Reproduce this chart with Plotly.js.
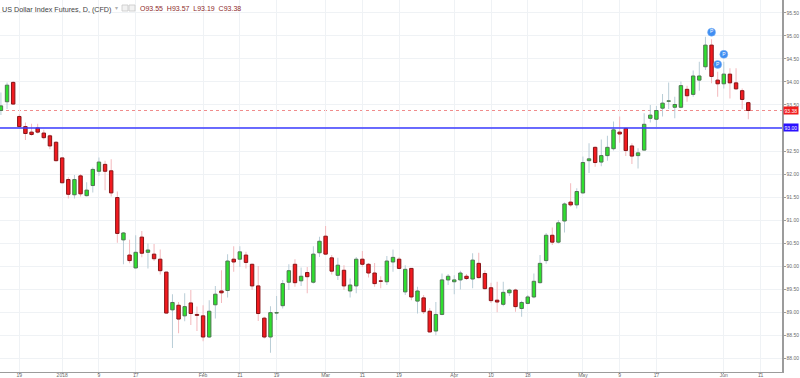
<!DOCTYPE html>
<html>
<head>
<meta charset="utf-8">
<script src="https://cdn.plot.ly/plotly-3.0.1.min.js"></script>
<style>
html,body{margin:0;padding:0;background:#ffffff;}
#chart{width:800px;height:378px;}
</style>
</head>
<body>
<div id="chart"></div>
<script>
// Daily OHLC, bar index 0..122 (Dec 2017 – Jun 2018)
const openP = [93.38,93.57,93.99,93.25,93.03,92.91,93.00,92.89,92.83,92.69,
  92.35,91.88,91.55,91.96,91.53,91.75,92.06,92.21,92.07,91.49,
  90.57,90.24,89.96,90.63,90.30,90.26,90.15,89.87,89.05,89.15,
  88.92,89.20,88.95,88.92,88.46,89.16,89.46,89.47,90.15,90.15,
  90.24,90.04,89.57,88.87,88.46,88.98,89.14,89.65,90.04,89.68,
  89.86,89.65,90.29,90.65,90.18,89.80,89.91,89.46,89.57,90.15,
  90.04,89.85,89.68,89.66,90.09,90.15,89.44,89.95,89.24,89.31,
  89.02,88.59,88.95,89.70,89.66,89.70,89.78,89.72,90.06,89.84,
  89.53,89.26,89.17,89.42,89.48,89.08,89.19,89.33,89.64,90.12,
  90.67,90.52,90.98,91.39,91.33,91.59,92.29,92.58,92.26,92.40,
  92.55,92.91,92.99,92.61,92.40,92.52,93.21,93.19,93.43,93.58,
  93.45,93.45,93.84,93.73,94.04,94.33,94.80,94.04,93.96,94.17,
  93.98,93.81,93.55];
const highP = [93.77,93.99,94.02,93.30,93.12,93.09,93.09,92.96,92.86,92.72,
  92.36,91.93,91.98,92.00,91.82,92.14,92.36,92.29,92.32,91.62,
  90.74,90.57,90.67,90.76,90.49,90.48,90.36,89.88,89.39,89.22,
  89.41,89.48,89.12,89.15,89.26,89.57,89.91,90.26,90.43,90.43,
  90.31,90.05,90.00,88.90,89.13,89.35,89.70,90.04,90.15,89.97,
  89.98,90.43,90.64,90.87,90.24,90.18,90.02,89.73,90.20,90.33,
  90.07,90.07,89.78,90.22,90.36,90.19,90.02,89.96,89.55,89.37,
  89.09,89.22,89.84,89.83,89.80,89.90,89.83,90.28,90.29,89.91,
  89.64,89.66,89.66,89.51,89.51,89.25,89.37,89.84,90.24,90.72,
  90.84,91.00,91.38,91.80,91.69,92.38,92.67,92.60,92.75,92.83,
  93.14,93.25,93.00,92.67,92.56,93.32,93.50,93.48,93.74,93.99,
  93.68,94.01,93.92,94.25,94.44,94.98,94.93,94.22,94.44,94.30,
  94.30,93.86,93.57];
const lowP = [93.28,93.41,93.50,93.02,92.74,92.83,92.88,92.75,92.54,92.27,
  91.80,91.47,91.47,91.51,91.51,91.60,91.96,91.65,91.51,90.51,
  90.04,90.06,89.95,90.19,89.95,90.11,89.82,88.97,88.22,88.54,
  88.80,88.72,88.59,88.37,88.44,88.86,89.20,89.32,89.88,89.98,
  89.95,89.48,88.81,88.43,88.12,88.83,89.08,89.48,89.55,89.57,
  89.41,89.62,90.20,90.24,89.82,89.70,89.48,89.32,89.41,89.98,
  89.75,89.55,89.52,89.59,89.88,89.93,89.37,89.26,88.97,88.96,
  88.56,88.50,88.93,89.59,89.39,89.49,89.70,89.52,89.73,89.49,
  89.20,89.00,89.13,89.35,89.01,88.90,89.17,89.30,89.62,90.05,
  90.46,90.49,90.73,91.29,91.25,91.57,92.02,92.16,92.17,92.29,
  92.51,92.68,92.39,92.22,92.12,92.51,93.12,93.02,93.25,93.41,
  93.21,93.43,93.57,93.68,93.81,94.26,93.97,93.68,93.86,93.64,
  93.83,93.41,93.19];
const closeP = [93.48,93.93,93.52,93.03,92.88,92.86,92.91,92.79,92.61,92.29,
  91.81,91.56,91.88,91.57,91.65,92.10,92.26,92.06,91.59,90.71,
  90.72,90.12,90.30,90.28,90.35,90.16,89.90,88.98,89.21,88.85,
  89.12,88.97,88.93,88.46,89.02,89.39,89.42,90.11,90.09,90.31,
  90.08,89.57,88.97,88.46,88.99,88.99,89.62,89.90,89.64,89.78,
  89.77,90.26,90.54,90.26,89.89,90.02,89.57,89.59,90.15,90.04,
  89.85,89.62,89.67,90.11,90.19,89.95,89.93,89.33,89.46,89.01,
  88.57,88.95,89.70,89.78,89.70,89.85,89.73,90.13,89.75,89.51,
  89.25,89.22,89.43,89.48,89.12,89.21,89.33,89.67,90.06,90.67,
  90.52,90.94,91.35,91.33,91.62,92.25,92.33,92.25,92.40,92.58,
  92.96,92.87,92.51,92.39,92.46,93.08,93.28,93.38,93.54,93.59,
  93.51,93.92,93.70,94.13,94.13,94.80,94.12,93.96,94.17,93.98,
  93.85,93.62,93.38];

const tickIndex  = [3,10,16,22,33,39,45,53,59,65,74,80,86,95,101,107,118,124];
const tickLabels = ['19','2018','9','17','Feb','11','19','Mar','11','19','Apr','10','18','May','9','17','Jun','11'];
const priceTicks = [88,88.5,89,89.5,90,90.5,91,91.5,92,92.5,93,93.5,94,94.5,95,95.5];
const levelLine  = 93.00;
const eventIdx   = [116,117,118];
const eventPrice = [95.08,94.38,94.60];
const chartTitle = 'US Dollar Index Futures, D, (CFD)';

const FONT = 'Liberation Sans, Arial, sans-serif';
const idx = openP.map((_, i) => i);
const up = idx.map(i => closeP[i] >= openP[i]);
const last = idx.length - 1;

const wicks = {
  type: 'bar', x: idx, base: lowP, y: idx.map(i => highP[i] - lowP[i]),
  width: 0.16, hoverinfo: 'skip',
  marker: {color: up.map(u => u ? '#b7ccd6' : '#f3b7bb'), line: {width: 0}}
};
const bodies = {
  type: 'bar', x: idx,
  base: idx.map(i => Math.min(openP[i], closeP[i])),
  y: idx.map(i => Math.max(Math.abs(closeP[i] - openP[i]), 0.004)),
  width: 0.56, hoverinfo: 'skip',
  marker: {color: up.map(u => u ? '#2ee02e' : '#f21a1f'),
           line: {color: up.map(u => u ? '#4f7552' : '#861417'), width: 1}}
};
const events = {
  type: 'scatter', mode: 'markers+text', x: eventIdx, y: eventPrice,
  text: eventIdx.map(() => 'P'), textposition: 'middle center',
  textfont: {size: 5, color: '#ffffff', family: FONT},
  marker: {size: 8, color: '#3f8ef2', line: {color: '#7fb5f7', width: 0.5}},
  hoverinfo: 'skip'
};

const PW = 782, PH = 372;
const px = v => v / PW, py = v => 1 - v / PH;

// price-axis labels that sit under the coloured price boxes are left blank
const boxed = [levelLine];
const priceTickText = priceTicks.map(v => boxed.includes(v) ? '' : v.toFixed(2));

const layout = {
  width: 800, height: 378,
  margin: {l: 0, r: 18, t: 0, b: 6, pad: 0},
  paper_bgcolor: '#ffffff', plot_bgcolor: '#ffffff',
  showlegend: false, barmode: 'overlay',
  title: {text: chartTitle, x: 2/800, xanchor: 'left', y: 1 - 9/378, yanchor: 'middle',
          font: {size: 7.2, color: '#444444', family: FONT}},
  xaxis: {
    range: [-0.15, 127.5], tickmode: 'array', tickvals: tickIndex, ticktext: tickLabels,
    showgrid: true, gridcolor: '#eff2f5', gridwidth: 1, zeroline: false,
    showline: true, linecolor: '#9c9c9c', linewidth: 1.2,
    ticks: 'outside', ticklen: 1, tickcolor: '#9c9c9c', tickwidth: 1,
    ticklabelstandoff: -3,
    tickfont: {size: 5, color: '#6a6a6a', family: FONT}, automargin: false, fixedrange: true
  },
  yaxis: {
    side: 'right', range: [87.70, 95.78], tickmode: 'array', tickvals: priceTicks,
    ticktext: priceTickText,
    showgrid: true, gridcolor: '#eff2f5', gridwidth: 1, zeroline: false,
    showline: true, linecolor: '#9c9c9c', linewidth: 1.5,
    ticks: 'outside', ticklen: 2, tickcolor: '#9c9c9c', tickwidth: 1,
    tickfont: {size: 5, color: '#6a6a6a', family: FONT}, automargin: false, fixedrange: true
  },
  shapes: [
    {type: 'line', xref: 'paper', x0: 0, x1: 1, yref: 'y', y0: closeP[last], y1: closeP[last],
     line: {color: '#f08c8c', width: 1, dash: 'dot'}, layer: 'below'},
    {type: 'line', xref: 'paper', x0: 0, x1: 1, yref: 'y', y0: levelLine, y1: levelLine,
     line: {color: '#3b3bff', width: 1.5}},
    {type: 'rect', xref: 'paper', yref: 'paper', x0: px(122), x1: px(128), y0: py(11), y1: py(5),
     line: {color: '#c8c8c8', width: 0.8}, fillcolor: '#f2f2f2'},
    {type: 'rect', xref: 'paper', yref: 'paper', x0: px(129), x1: px(135), y0: py(11), y1: py(5),
     line: {color: '#c8c8c8', width: 0.8}, fillcolor: '#f2f2f2'}
  ],
  annotations: [
    {xref: 'paper', yref: 'paper', x: px(116), y: py(8.5), xanchor: 'center', yanchor: 'middle',
     text: '▾', showarrow: false, font: {size: 6, color: '#b0b0b0', family: FONT}},
    {xref: 'paper', yref: 'paper', x: px(138), y: py(9), xanchor: 'left', yanchor: 'middle',
     text: 'O' + openP[last].toFixed(2) + '  H' + highP[last].toFixed(2) + '  L' + lowP[last].toFixed(2) + '  C' + closeP[last].toFixed(2),
     showarrow: false, font: {size: 7, color: '#8e2b2b', family: FONT}},
    {xref: 'paper', yref: 'y', x: 1, y: closeP[last], xanchor: 'left', yanchor: 'middle', xshift: 1,
     text: closeP[last].toFixed(2), showarrow: false, bgcolor: '#f01d1d', borderpad: 0.6,
     font: {size: 5, color: '#ffffff', family: FONT}},
    {xref: 'paper', yref: 'y', x: 1, y: levelLine, xanchor: 'left', yanchor: 'middle', xshift: 1,
     text: levelLine.toFixed(2), showarrow: false, bgcolor: '#2a10ff', borderpad: 0.6,
     font: {size: 5, color: '#ffffff', family: FONT}}
  ]
};

Plotly.newPlot('chart', [wicks, bodies, events], layout, {displayModeBar: false, staticPlot: true});
</script>
</body>
</html>
